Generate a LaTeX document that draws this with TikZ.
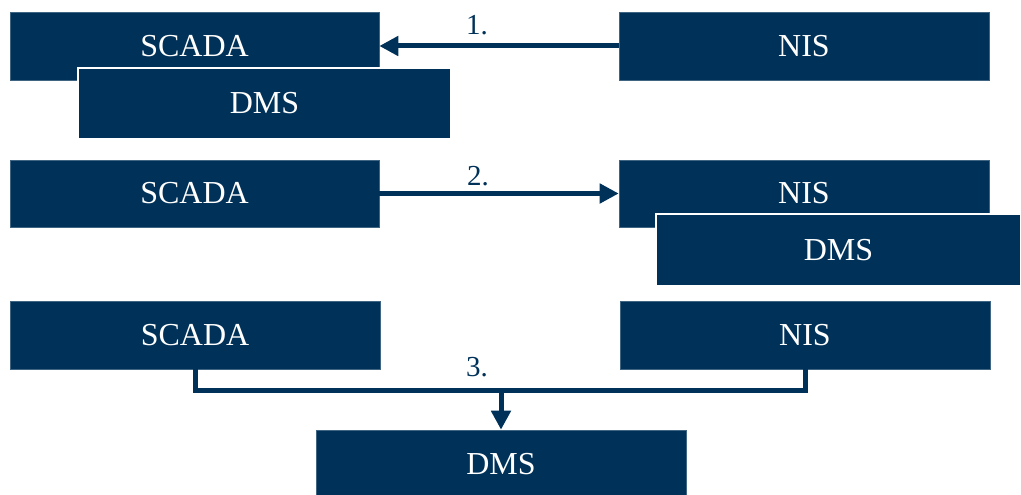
\documentclass[tikz,border=0pt]{standalone}
\usepackage{fontspec}
\setmainfont{Liberation Serif}
\usetikzlibrary{arrows.meta}
\definecolor{navy}{RGB}{0,49,88}
\begin{document}
\begin{tikzpicture}[x=1pt,y=-1pt,
  sysbox/.style={rectangle, fill=navy, draw=navy!75!white, line width=0.6pt,
    inner sep=0pt, text=white, font=\fontsize{32}{36}\selectfont},
  topbox/.style={sysbox, draw=white, line width=2pt},
  conn/.style={navy, line width=5pt, -{Triangle[length=19pt,width=19pt]}},
  link/.style={navy, line width=5pt},
  steplabel/.style={text=navy, font=\fontsize{29}{32}\selectfont, inner sep=0pt}]
\useasboundingbox (0,0) rectangle (1021,495);

% Variant 1: DMS attached to SCADA
\node[sysbox, minimum width=369pt, minimum height=68pt] (scada1) at (194.5,46) {SCADA};
\node[sysbox, minimum width=370pt, minimum height=68pt] (nis1) at (804,46) {NIS};
\node[topbox, minimum width=373pt, minimum height=71pt] (dms1) at (264.5,103.5) {DMS};
\draw[conn] (nis1.west) -- (scada1.east);
\node[steplabel] (l1) at (477,25) {1.};

% Variant 2: DMS attached to NIS
\node[sysbox, minimum width=369pt, minimum height=67pt] (scada2) at (194.5,193.5) {SCADA};
\node[sysbox, minimum width=370pt, minimum height=67pt] (nis2) at (804,193.5) {NIS};
\node[topbox, minimum width=365pt, minimum height=72pt] (dms2) at (838.5,250) {DMS};
\draw[conn] (scada2.east) -- (nis2.west);
\node[steplabel] (l2) at (478,176) {2.};

% Variant 3: standalone DMS fed by both
\node[sysbox, minimum width=370pt, minimum height=68pt] (scada3) at (195,335) {SCADA};
\node[sysbox, minimum width=370pt, minimum height=68pt] (nis3) at (805,335) {NIS};
\node[sysbox, minimum width=370pt, minimum height=68pt] (dms3) at (501,464) {DMS};
\draw[link] (scada3.south) -- ++(0,21) coordinate (jl) -| (nis3.south);
\coordinate (j) at (dms3.north |- jl);
\draw[conn] (j) -- (dms3.north);
\node[steplabel] (l3) at (477,367) {3.};
\end{tikzpicture}
\end{document}
